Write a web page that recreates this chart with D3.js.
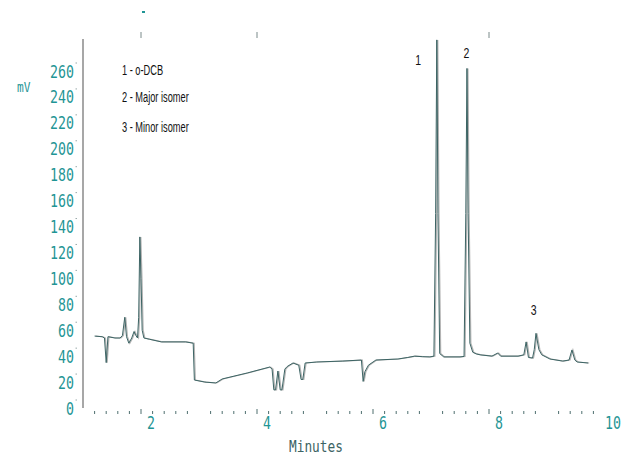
<!DOCTYPE html>
<html>
<head>
<meta charset="utf-8">
<script src="https://cdn.jsdelivr.net/npm/d3@7"></script>
<style>
  body { margin: 0; background: #fff; }
  svg { display: block; }
</style>
</head>
<body>
<svg id="chart" width="623" height="455"></svg>
<script>
// chromatogram trace: retention time (min) and signal (mV)
var times = [1.20, 1.33, 1.37, 1.40, 1.43, 1.55, 1.64, 1.68, 1.72, 1.75, 1.79, 1.84, 1.88, 1.91, 1.94, 1.96, 1.98, 2.00, 2.02, 2.05,
    2.15, 2.35, 2.77, 2.90, 2.92, 3.10, 3.29, 3.40, 3.83, 4.22, 4.26, 4.29, 4.32, 4.36, 4.40, 4.43, 4.48, 4.52, 4.62, 4.72,
    4.76, 4.79, 4.83, 5.03, 5.47, 5.80, 5.83, 5.86, 5.92, 6.05, 6.43, 6.60, 6.72, 6.85, 6.98, 7.05, 7.08, 7.10, 7.12, 7.15,
    7.22, 7.50, 7.57, 7.60, 7.62, 7.64, 7.67, 7.72, 7.78, 7.85, 8.05, 8.15, 8.20, 8.50, 8.60, 8.64, 8.68, 8.75, 8.78, 8.81,
    8.86, 8.91, 9.05, 9.27, 9.38, 9.43, 9.48, 9.52, 9.71];
var signal = [55.5, 55, 54, 35, 55, 54, 54, 56, 70, 55, 50, 54, 59, 56, 54, 70, 132, 100, 60, 54,
    53, 51, 51, 50, 21.6, 20, 19.3, 22.4, 27, 31.6, 30, 14, 14, 28.5, 14, 14, 30, 32, 34.7, 33,
    22, 22, 34.7, 35.5, 36.2, 37, 20.5, 28, 33, 37, 37.8, 39, 40, 39.6, 39.4, 40, 150, 284, 150, 42,
    39.4, 39.4, 39.8, 150, 262, 150, 50, 43, 41.7, 41, 40, 42.4, 40, 40, 41, 51, 39, 38.5, 45, 57.6,
    45, 41, 37.8, 36.2, 37, 44.8, 37, 35.5, 34.7];

// axis ticks
var yTicks = [0, 20, 40, 60, 80, 100, 120, 140, 160, 180, 200, 220, 240, 260];
var xLabels = [2, 4, 6, 8, 10];
var topTicks = [2, 4, 8];

// peak annotations
var legendLines = ["1 - o-DCB", "2 - Major isomer", "3 - Minor isomer"];
var peakNames = ["1", "2", "3"];
var peakTimes = [6.78, 7.61, 8.77];
var peakLabelValues = [265, 270, 72];

main();

function main()
{
    var svg = d3.select("#chart"),
        x = d3.scaleLinear().domain([1, 10]).range([83, 605]),
        y = d3.scaleLinear().domain([0, 260]).range([408, 71]),
        teal = "#1f9595",
        slate = "#3c6464";

    // minor ticks every 0.2 min, scan lost the ones on odd minutes
    var minorTicks = d3.range(12, 99, 2).map(function(d) { return d / 10; })
        .filter(function(d) { return Math.abs(d - Math.round(d)) > 0.01 || Math.round(d) % 2 === 0; });

    svg.append("g").selectAll("line")
        .data(minorTicks)
        .enter().append("line")
        .attr("x1", function(d) { return x(d); })
        .attr("x2", function(d) { return x(d); })
        .attr("y1", function(d) { return Math.abs(d - Math.round(d)) < 0.01 ? 409 : 411; })
        .attr("y2", 414)
        .attr("stroke", "#4f6f6f")
        .attr("stroke-width", 1);

    // x tick labels, pixel-ish mono font ("10" sits at the right edge)
    svg.append("g").selectAll("text")
        .data(xLabels)
        .enter().append("text")
        .attr("transform", function(d) {
            return "translate(" + Math.min(x(d) + 6, 605) + ",429) scale(0.78,1)";
        })
        .style("font-family", "DejaVu Sans Mono")
        .style("font-size", "17px")
        .attr("fill", teal)
        .text(function(d) { return d; });

    // y axis line
    svg.append("line")
        .attr("x1", 83).attr("x2", 83)
        .attr("y1", 39).attr("y2", 408)
        .attr("stroke", "#8a8a8a")
        .attr("stroke-width", 1.5);

    // y tick labels
    svg.append("g").selectAll("text")
        .data(yTicks)
        .enter().append("text")
        .attr("transform", function(d) { return "translate(74," + (y(d) + 6.5) + ") scale(0.78,1)"; })
        .attr("text-anchor", "end")
        .style("font-family", "DejaVu Sans Mono")
        .style("font-size", "17px")
        .attr("fill", teal)
        .text(function(d) { return d; });

    // little marks beside the labels
    svg.append("g").selectAll("line")
        .data(yTicks)
        .enter().append("line")
        .attr("x1", 75.5).attr("x2", 77)
        .attr("y1", function(d) { return y(d) - 8; })
        .attr("y2", function(d) { return y(d) - 8; })
        .attr("stroke", "#9aa")
        .attr("stroke-width", 1);

    // top ticks
    svg.append("g").selectAll("line")
        .data(topTicks)
        .enter().append("line")
        .attr("x1", function(d) { return x(d); })
        .attr("x2", function(d) { return x(d); })
        .attr("y1", 32).attr("y2", 38)
        .attr("stroke", "#7a8a8a")
        .attr("stroke-width", 1);

    svg.append("line")
        .attr("x1", x(2) + 1).attr("x2", x(2) + 4)
        .attr("y1", 12).attr("y2", 12)
        .attr("stroke", teal)
        .attr("stroke-width", 2);

    // axis titles
    svg.append("text")
        .attr("transform", "translate(17,92) scale(0.8,1)")
        .style("font-family", "DejaVu Sans Mono")
        .style("font-size", "14px")
        .attr("fill", teal)
        .text("mV");

    svg.append("text")
        .attr("transform", "translate(289,452) scale(0.8,1)")
        .style("font-family", "DejaVu Sans Mono")
        .style("font-size", "16px")
        .attr("fill", slate)
        .text("Minutes");

    // trace: light gray ghost plus darker line, as on the scan
    var data = times.map(function(t, i) { return { t: t, v: signal[i] }; }),
        line = d3.line()
            .x(function(d) { return x(d.t); })
            .y(function(d) { return y(d.v); });

    svg.append("path")
        .datum(data)
        .attr("d", line)
        .attr("transform", "translate(1,0)")
        .attr("fill", "none")
        .attr("stroke", "#b4b4b4")
        .attr("stroke-width", 1.2);

    svg.append("path")
        .datum(data)
        .attr("d", line)
        .attr("fill", "none")
        .attr("stroke", slate)
        .attr("stroke-width", 1);

    // legend text
    svg.append("g").selectAll("text")
        .data(legendLines)
        .enter().append("text")
        .attr("transform", function(d, i) { return "translate(122," + [75, 102, 132][i] + ") scale(0.66,1)"; })
        .style("font-family", "Liberation Sans")
        .style("font-size", "14px")
        .attr("fill", "#111")
        .text(function(d) { return d; });

    // peak numbers
    svg.append("g").selectAll("text")
        .data(peakNames)
        .enter().append("text")
        .attr("transform", function(d, i) {
            return "translate(" + x(peakTimes[i]) + "," + y(peakLabelValues[i]) + ") scale(0.7,1)";
        })
        .attr("text-anchor", "middle")
        .style("font-family", "Liberation Sans")
        .style("font-size", "15px")
        .attr("fill", "#111")
        .text(function(d) { return d; });
}
</script>
</body>
</html>
